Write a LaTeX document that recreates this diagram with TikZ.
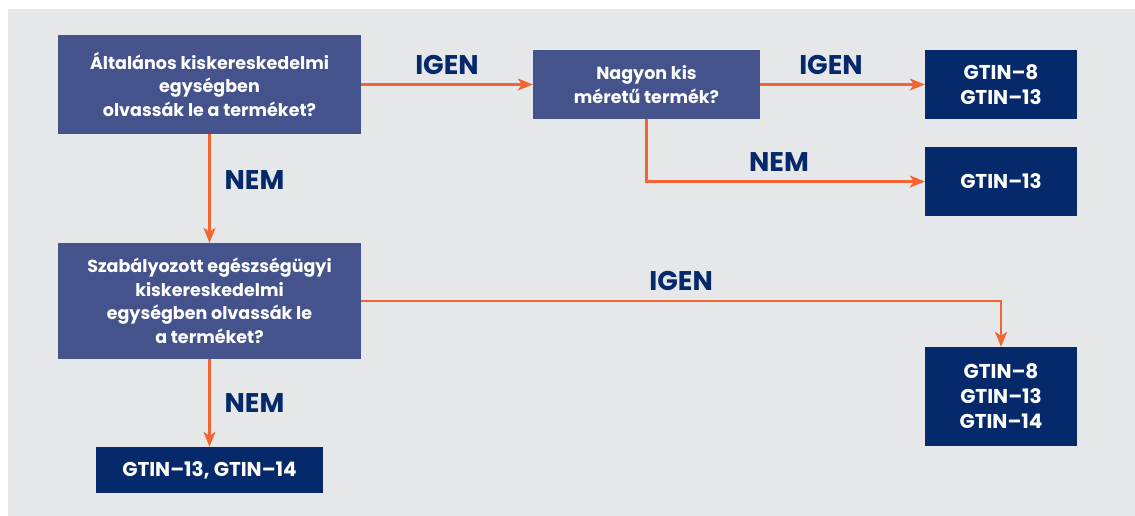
\documentclass[tikz,border=0pt]{standalone}
\usepackage{fontspec}
\setmainfont{Poppins}
\usetikzlibrary{arrows.meta}
\definecolor{hatter}{HTML}{E6E7E8}
\definecolor{kerdeskek}{HTML}{44538C}
\definecolor{sotetkek}{HTML}{05296A}
\definecolor{narancs}{HTML}{F26532}
\tikzset{
  kerdes/.style={fill=kerdeskek,text=white,align=center,inner sep=0pt,
    font=\fontsize{17.5}{23.5}\selectfont\bfseries},
  valasz/.style={fill=sotetkek,text=white,align=center,inner sep=0pt,
    font=\fontsize{20}{25}\selectfont\bfseries},
  nyil/.style={draw=narancs,line width=2.2pt,-{Stealth[length=15pt,width=12pt,inset=4pt]}},
  felirat/.style={text=sotetkek,inner sep=0pt,font=\fontsize{27}{27}\selectfont\bfseries}
}
\begin{document}
\begin{tikzpicture}[x=1pt,y=-1pt]
\useasboundingbox (0,0) rectangle (1135,516);
\fill[hatter](8,9) rectangle (1135,516);
% kerdesek
\node[kerdes,minimum width=303pt,minimum height=99pt](q1) at (209.5,84.5)
  {Általános kiskereskedelmi\\egységben\\olvassák le a terméket?};
\node[kerdes,minimum width=227pt,minimum height=69pt](q2) at (646.5,84.5)
  {Nagyon kis\\méretű termék?};
\node[kerdes,minimum width=303pt,minimum height=116pt](q3) at (209.5,301)
  {Szabályozott egészségügyi\\kiskereskedelmi\\egységben olvassák le\\a terméket?};
% valaszok
\node[valasz,minimum width=152pt,minimum height=69pt](a1) at (1001,84.5) {GTIN–8\\GTIN–13};
\node[valasz,minimum width=152pt,minimum height=69pt](a2) at (1001,181.5) {GTIN–13};
\node[valasz,minimum width=152pt,minimum height=99pt](a3) at (1001,396.5) {GTIN–8\\GTIN–13\\GTIN–14};
\node[valasz,minimum width=227pt,minimum height=46pt](a4) at (209.5,470) {GTIN–13, GTIN–14};
% nyilak
\draw[nyil](q1)--(q2)node[midway,above=9pt,felirat]{IGEN};
\draw[nyil](q2)--(a1)node[pos=.43,above=9pt,felirat]{IGEN};
\draw[nyil](q2.south)|-(a2)node[pos=.738,above=9pt,felirat]{NEM};
\draw[nyil](q1)--(q3)node[pos=.42,right=14pt,felirat]{NEM};
\draw[nyil](q3.east)-|(a3.north)node[pos=.25,above=9pt,felirat]{IGEN};
\draw[nyil](q3)--(a4)node[midway,right=14pt,felirat]{NEM};
\end{tikzpicture}
\end{document}
